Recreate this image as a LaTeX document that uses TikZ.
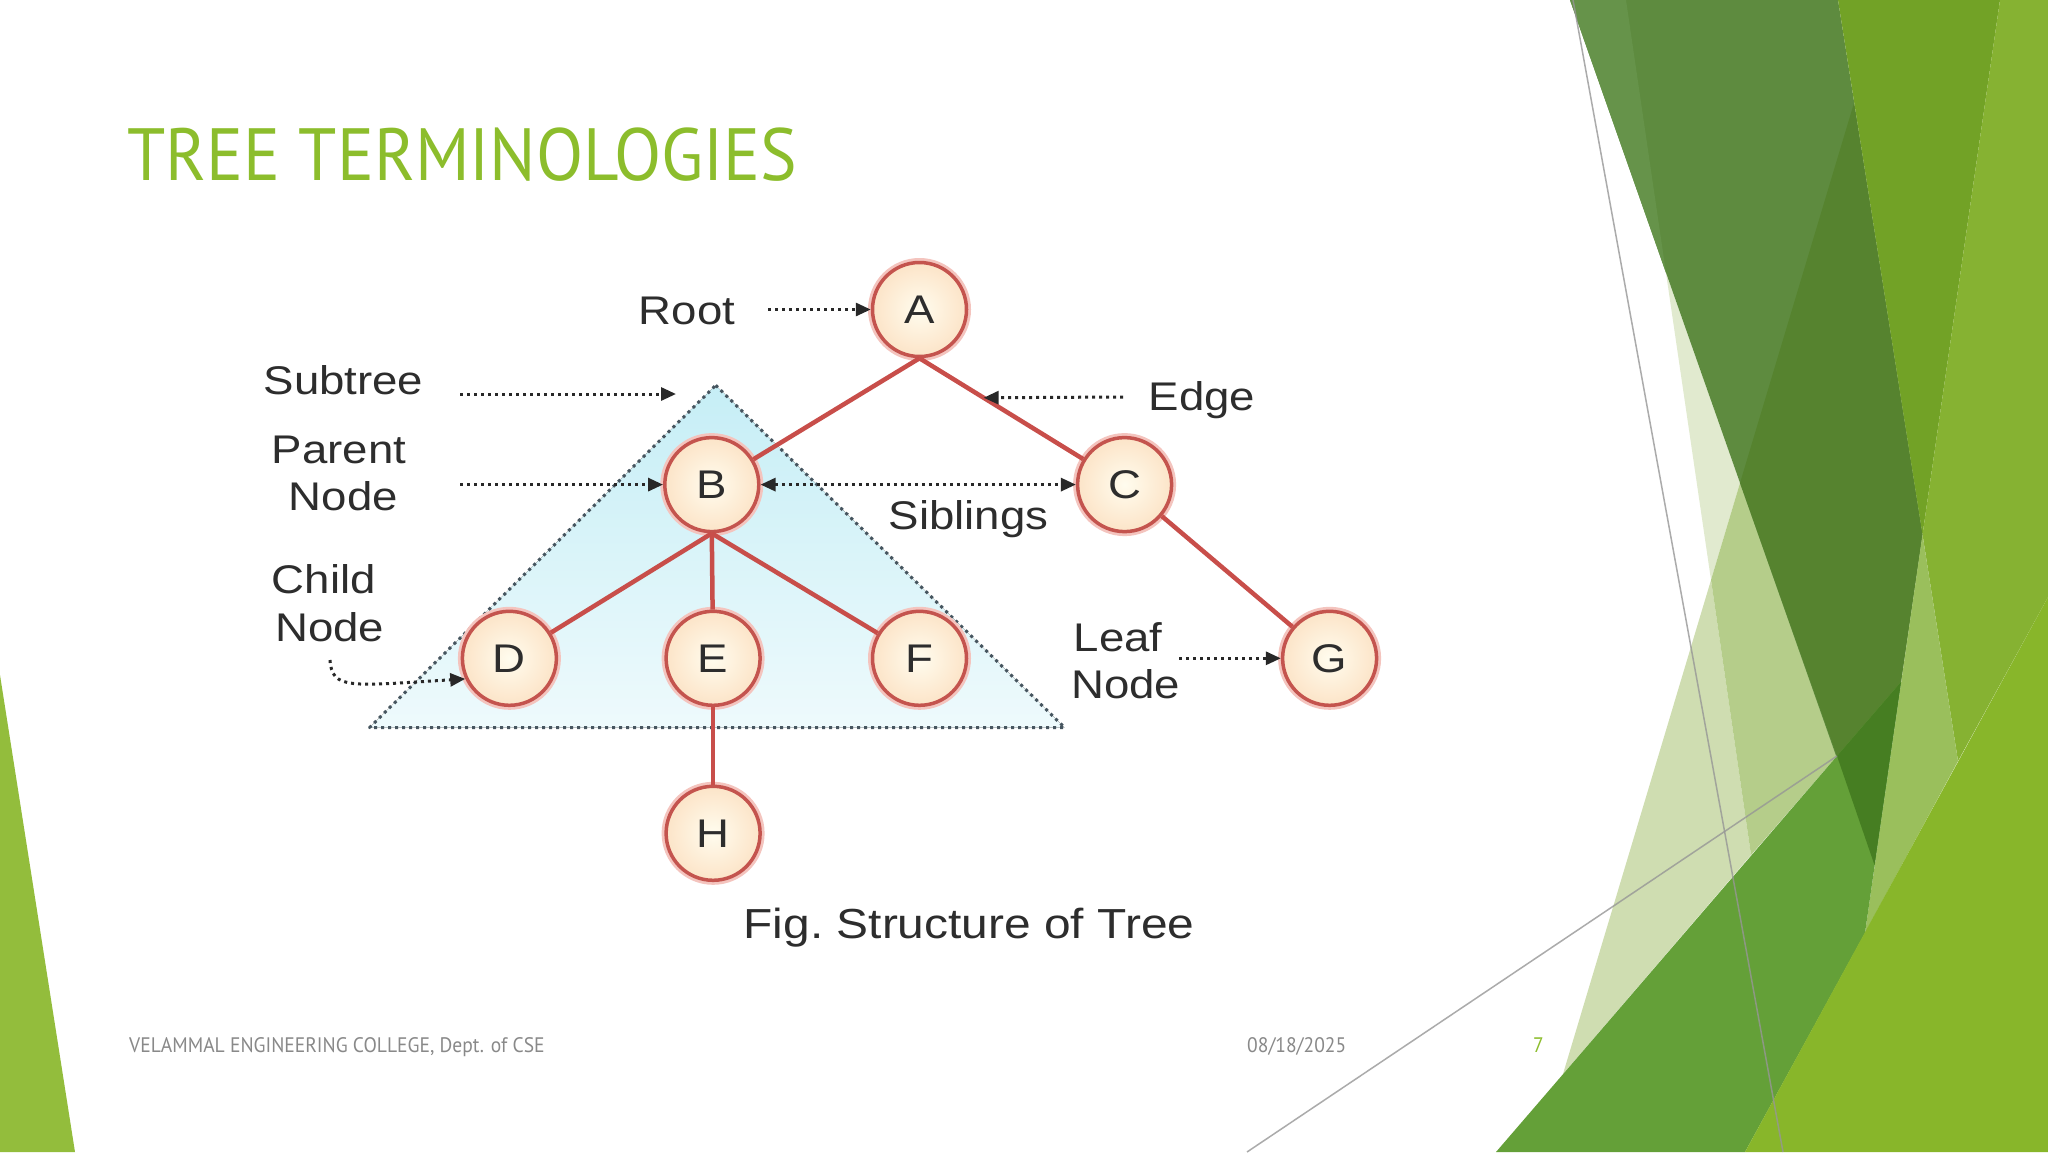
\documentclass[tikz,border=0pt]{standalone}
\usepackage{fontspec}
\setmainfont{Liberation Sans}
\newfontfamily\figfont[FakeStretch=1.14]{Liberation Sans}
\newfontfamily\themefont[FakeStretch=0.932]{PT Sans}
\newfontfamily\footfont[FakeStretch=0.93]{PT Sans}
\usetikzlibrary{arrows.meta,calc}
\definecolor{titlegreen}{RGB}{140,189,44}
\definecolor{footgray}{RGB}{137,137,137}
\definecolor{lbltext}{RGB}{45,45,45}
\definecolor{nodeborder}{RGB}{196,84,78}
\definecolor{nodeglow}{RGB}{244,196,190}
\definecolor{nodein}{RGB}{255,252,238}
\definecolor{nodeout}{RGB}{252,228,200}
\definecolor{edgered}{RGB}{200,78,74}
\definecolor{arrowgray}{RGB}{40,40,40}
\definecolor{tridot}{RGB}{70,85,95}
\definecolor{cyantop}{RGB}{198,238,246}
\definecolor{cyanbot}{RGB}{238,250,252}
\definecolor{gPaleA}{RGB}{225,234,207}
\definecolor{gPaleB}{RGB}{207,221,177}
\definecolor{gPaleAB}{RGB}{181,205,138}
\definecolor{gDark}{RGB}{94,139,63}
\definecolor{gDarkLt}{RGB}{102,147,74}
\definecolor{gDarkDk}{RGB}{86,131,47}
\definecolor{gDarkest}{RGB}{70,126,34}
\definecolor{gMid}{RGB}{114,162,38}
\definecolor{gLight}{RGB}{134,178,50}
\definecolor{gLightOnly}{RGB}{154,191,92}
\definecolor{gBand}{RGB}{100,160,56}
\definecolor{gLime}{RGB}{136,182,42}
\definecolor{gSliver}{RGB}{147,189,60}
\definecolor{thinline}{RGB}{150,150,150}
\begin{document}
\begin{tikzpicture}[x=1pt,y=-1pt,
  treenode/.style={circle, minimum size=94pt, inner sep=0pt, draw=nodeborder,
    line width=3.5pt, inner color=nodein, outer color=nodeout,
    preaction={draw=nodeglow, line width=9pt},
    font=\figfont\fontsize{40}{48}\selectfont, text=lbltext},
  treeedge/.style={draw=edgered, line width=4.5pt},
  lbl/.style={inner sep=0pt, font=\figfont\fontsize{40}{48}\selectfont, text=lbltext},
  lblarrow/.style={draw=arrowgray, line width=3pt, dash pattern=on 3pt off 4pt,
    -{Triangle[length=15pt,width=13pt]}},
  lblarrowboth/.style={draw=arrowgray, line width=3pt, dash pattern=on 3pt off 4pt,
    {Triangle[length=15pt,width=13pt]}-{Triangle[length=15pt,width=13pt]}},
  theme/.style={inner sep=0pt, font=\themefont},
  foot/.style={inner sep=0pt, anchor=base west, font=\footfont\fontsize{21}{24}\selectfont}
]
\useasboundingbox (0,0) rectangle (2048,1152);
\fill[white] (0,0) rectangle (2048,1152);

% ---------- decorative shapes ----------
\fill[gSliver] (0,675) -- (75,1152) -- (0,1152) -- cycle;
% pale strips
\fill[gPaleA] (1666,273) -- (1740,483) -- (1711,580) -- cycle;
\fill[gPaleB] (1711,580) -- (1751,855) -- (1563,1074) -- cycle;
\fill[gPaleAB] (1740,483) -- (1837,756) -- (1751,855) -- (1711,580) -- cycle;
% dark green
\fill[gDark] (1570,0) -- (1838,0) -- (1922.5,534.6) -- (1874.5,865) -- cycle;
\fill[gDarkLt] (1570,0) -- (1626,0) -- (1666,273) -- cycle;
\fill[gDarkDk] (1854,103) -- (1922.5,534.6) -- (1901,682) -- (1837,756) -- (1740,483) -- cycle;
% mid green
\fill[gMid] (1838,0) -- (2000,0) -- (1922.5,534.6) -- cycle;
% light green
\fill[gLight] (2000,0) -- (2048,0) -- (2048,597) -- (1958,761) -- (1922.5,534.6) -- cycle;
\fill[gLightOnly] (1922.5,534.6) -- (1958,761) -- (1865,933) -- cycle;
% bottom band
\fill[gBand] (1496,1152) -- (1837,756) -- (1901,682) -- (1865,933) -- (1745,1152) -- cycle;
\fill[gDarkest] (1837,756) -- (1901,682) -- (1874.5,865) -- cycle;
% lime
\fill[gLime] (2048,597) -- (2048,1152) -- (1745,1152) -- cycle;
% thin lines
\draw[thinline, line width=1.5pt, opacity=0.8] (1573,0) -- (1783,1152);
\draw[thinline, line width=1.5pt, opacity=0.8] (1247,1152) -- (1837,756);

% ---------- title and footer ----------
\node[theme, anchor=base west, text=titlegreen, font=\themefont\fontsize{74}{80}\selectfont]
  (title) at (127,180) {TREE TERMINOLOGIES};
\node[foot, text=footgray] (footer) at (129,1052) {VELAMMAL ENGINEERING COLLEGE, Dept. of CSE};
\node[foot, text=footgray] (date) at (1247,1052) {08/18/2025};
\node[foot, text=titlegreen] (pagenum) at (1533,1052) {7};

% ---------- subtree triangle ----------
\coordinate (triapex) at (715.7,385.3);
\coordinate (trileft) at (369.6,727.5);
\coordinate (triright) at (1064.5,727.5);
\fill[top color=cyantop, bottom color=cyanbot] (triapex) -- (triright) -- (trileft) -- cycle;
\draw[tridot, line width=3pt, dash pattern=on 3pt off 4pt, line join=round]
  (triapex) -- (triright) -- (trileft) -- cycle;

% ---------- tree nodes ----------
\node[treenode] (A) at (919.5,309.5) {A};
\node[treenode] (B) at (711.8,484.6) {B};
\node[treenode] (C) at (1124.6,484.6) {C};
\node[treenode] (D) at (509.4,658.3) {D};
\node[treenode] (E) at (713.1,658.3) {E};
\node[treenode] (F) at (919.5,658.3) {F};
\node[treenode] (G) at (1329.6,658.3) {G};
\node[treenode] (H) at (713.1,833.3) {H};

% ---------- edges ----------
\draw[treeedge] (A.south) -- (B);
\draw[treeedge] (A.south) -- coordinate[pos=0.392] (edgept) (C);
\draw[treeedge] (B.south) -- (D);
\draw[treeedge] (B.south) -- (E);
\draw[treeedge] (B.south) -- (F);
\draw[treeedge] (C) -- (G);
\draw[treeedge] (E.south) -- (H);

% ---------- labels ----------
\node[lbl, anchor=base] (rootlbl) at (687,324) {Root};
\node[lbl, anchor=base] (subtreelbl) at (343.5,394) {Subtree};
\node[lbl, anchor=base] (parentlbl) at (339,463.7) {Parent};
\node[lbl, anchor=base] (parentlbl2) at (343.5,510.7) {Node};
\node[lbl, anchor=base] (edgelbl) at (1202,410) {Edge};
\node[lbl, anchor=base] (siblingslbl) at (968.5,529) {Siblings};
\node[lbl, anchor=base west] (childlbl) at (271.7,593) {Child};
\node[lbl, anchor=base west] (childlbl2) at (275,641) {Node};
\node[lbl, anchor=base west] (leaflbl) at (1073.6,651.7) {Leaf};
\node[lbl, anchor=base west] (leaflbl2) at (1071,698.7) {Node};
\node[lbl, anchor=base, font=\figfont\fontsize{42}{50}\selectfont] (caption) at (969,938) {Fig.\ Structure of Tree};

% ---------- label arrows ----------
\coordinate (rootstart) at (768,309.5);
\coordinate (subtreestart) at (460,394);
\coordinate (subtreetip) at (676,394);
\coordinate (parentstart) at (460,484.6);
\coordinate (edgestart) at (1123,397);
\coordinate (childstart) at (330,660);
\coordinate (leafstart) at (1179,658.3);

\draw[lblarrow] (rootstart) -- (A.west);
\draw[lblarrow] (subtreestart) -- (subtreetip);
\draw[lblarrow] (parentstart) -- (B.west);
\draw[lblarrow] (edgestart) -- (edgept);
\draw[lblarrowboth] (B.east) -- (C.west);
\draw[lblarrow] (childstart) .. controls (332,690) and (350,686) .. (D.205);
\draw[lblarrow] (leafstart) -- (G.west);
\end{tikzpicture}
\end{document}
